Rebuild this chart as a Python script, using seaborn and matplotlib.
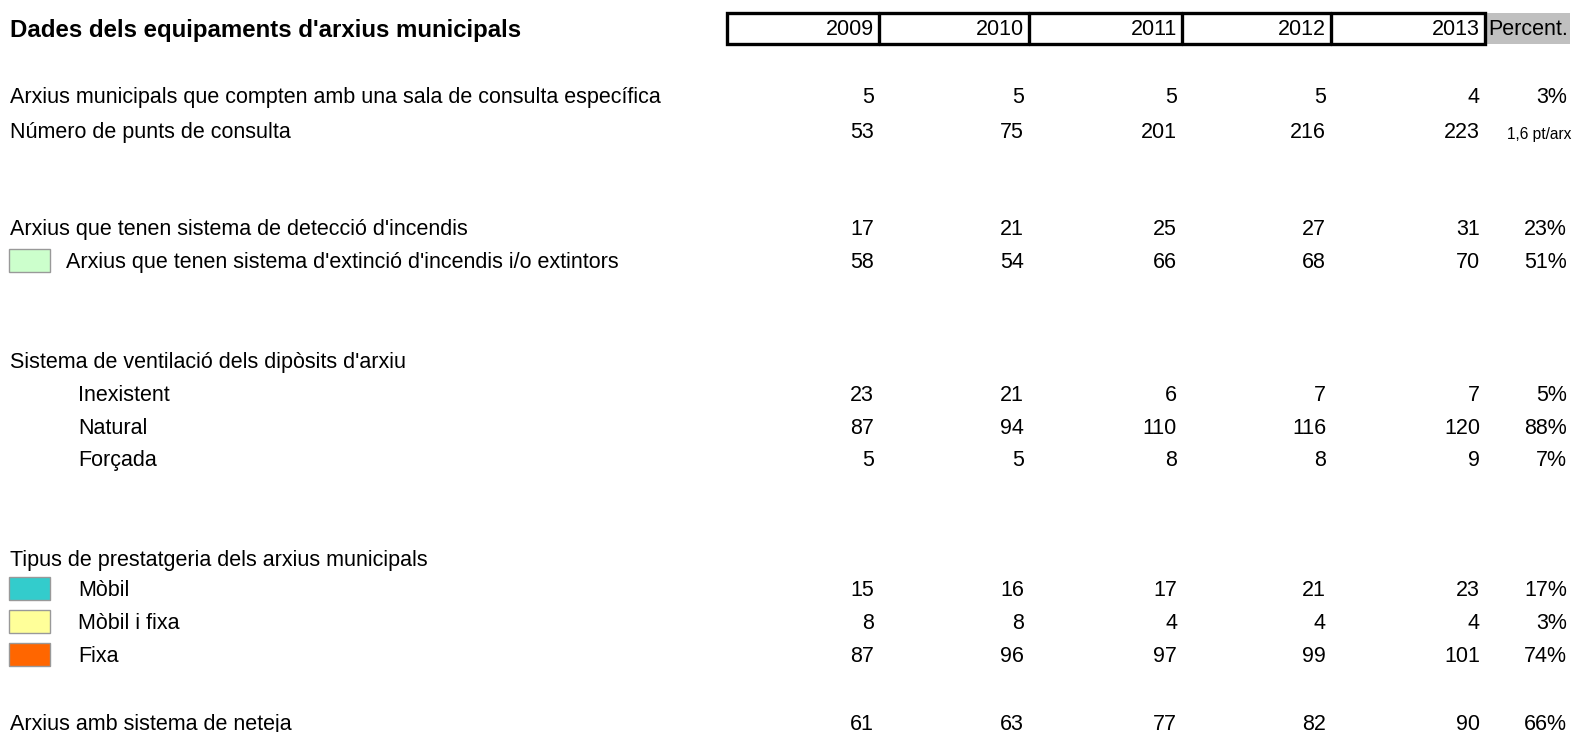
import matplotlib.pyplot as plt
import seaborn as sns
from matplotlib.patches import Rectangle

sns.set_theme(style="white")
plt.rcParams['font.family'] = ['Liberation Sans', 'DejaVu Sans']

title = "Dades dels equipaments d'arxius municipals"
years = ['2009', '2010', '2011', '2012', '2013']
pct_header = 'Percent.'

row_labels = [
    "Arxius municipals que compten amb una sala de consulta específica",
    "Número de punts de consulta",
    "Arxius que tenen sistema de detecció d'incendis",
    "Arxius que tenen sistema d'extinció d'incendis i/o extintors",
    "Sistema de ventilació dels dipòsits d'arxiu",
    "Inexistent",
    "Natural",
    "Forçada",
    "Tipus de prestatgeria dels arxius municipals",
    "Mòbil",
    "Mòbil i fixa",
    "Fixa",
    "Arxius amb sistema de neteja",
]
row_values = [
    [5, 5, 5, 5, 4],
    [53, 75, 201, 216, 223],
    [17, 21, 25, 27, 31],
    [58, 54, 66, 68, 70],
    None,
    [23, 21, 6, 7, 7],
    [87, 94, 110, 116, 120],
    [5, 5, 8, 8, 9],
    None,
    [15, 16, 17, 21, 23],
    [8, 8, 4, 4, 4],
    [87, 96, 97, 99, 101],
    [61, 63, 77, 82, 90],
]
row_pct = ['3%', '1,6 pt/arx', '23%', '51%', '', '5%', '88%', '7%', '',
           '17%', '3%', '74%', '66%']
row_swatch = [None, None, None, '#ccffcc', None, None, None, None, None,
              '#33cccc', '#ffff99', '#ff6600', None]

# layout (pixels, y = middle of capital letters)
row_y = [95, 130, 227, 260, 360, 393, 426, 458, 558, 588, 621, 654, 722]
label_x = [10, 10, 10, 66, 10, 78, 78, 78, 10, 78, 78, 78, 10]
col_edges = [727, 879, 1029, 1182, 1331, 1485, 1570]

W, H = 1573, 732
fig = plt.figure(figsize=(W / 100, H / 100), dpi=100)
ax = fig.add_axes([0, 0, 1, 1])
ax.set_xlim(0, W)
ax.set_ylim(H, 0)
ax.axis('off')

fs = 15.5
half_cap = 7.7
ink = 'black'

# header
ax.text(10, 28 + 8.6, title, fontsize=17.3, fontweight='bold', va='baseline',
        ha='left', color=ink)
top, bot = 12.5, 43.5
ax.add_patch(Rectangle((col_edges[5], top), col_edges[6] - col_edges[5], bot - top,
                       facecolor='#c0c0c0', edgecolor='none', zorder=1))
ax.add_patch(Rectangle((col_edges[0], top), col_edges[5] - col_edges[0], bot - top,
                       facecolor='none', edgecolor='black', lw=2.4, zorder=3))
for xe in col_edges[1:5]:
    ax.plot([xe, xe], [top, bot], color='black', lw=2.4, zorder=3)
for i, yr in enumerate(years):
    ax.text(col_edges[i + 1] - 5, 27.5 + half_cap, yr, fontsize=fs, ha='right',
            va='baseline', color=ink, zorder=4)
ax.text(col_edges[5] + 3, 27.5 + half_cap, pct_header, fontsize=fs, ha='left',
        va='baseline', color=ink, zorder=4)

# body
for lab, lx, vals, pct, sw, y in zip(row_labels, label_x, row_values, row_pct,
                                      row_swatch, row_y):
    base = y + half_cap
    ax.text(lx, base, lab, fontsize=fs, ha='left', va='baseline', color=ink)
    if sw is not None:
        ax.add_patch(Rectangle((9, y - 11.5), 41, 23, facecolor=sw,
                               edgecolor='#999999', lw=1))
    if vals is not None:
        for i, v in enumerate(vals):
            ax.text(col_edges[i + 1] - 5, base, str(v), fontsize=fs, ha='right',
                    va='baseline', color=ink)
    if pct:
        small = 'pt' in pct
        ax.text(1571 if small else 1567, base + (1 if small else 0), pct,
                fontsize=11.2 if small else fs, ha='right', va='baseline', color=ink)

fig.savefig('out.png', dpi=100)
